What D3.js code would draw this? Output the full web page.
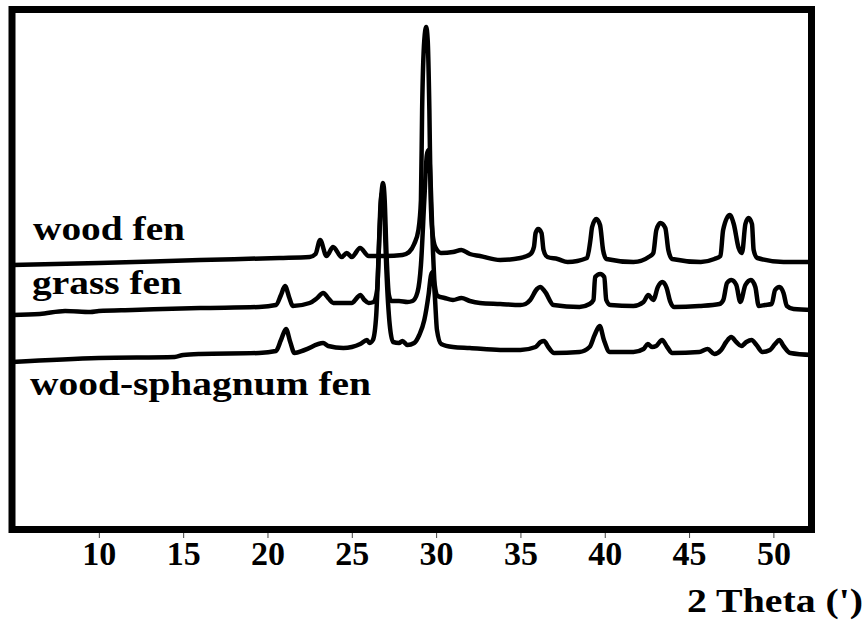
<!DOCTYPE html>
<html>
<head>
<meta charset="utf-8">
<script src="https://cdn.jsdelivr.net/npm/d3@7"></script>
<style>
  body { margin: 0; background: #fff; }
</style>
</head>
<body>
<div id="xrd"></div>
<script>
// XRD patterns, [2 theta, intensity] (traces are already offset, like in the figure)
let woodFen = [
  [4.85, 265], [10.0, 267], [16.0, 270], [20.7, 272], [22.5, 273], [22.85, 276],
  [23.12, 290], [23.5, 274], [23.89, 283], [24.4, 273], [24.7, 277], [25.0, 273],
  [25.49, 282], [26.0, 274], [27.0, 274], [28.0, 275], [28.4, 278], [28.7, 286],
  [28.95, 300], [29.1, 330], [29.17, 420], [29.3, 490], [29.41, 503], [29.5, 490],
  [29.6, 420], [29.68, 330], [29.78, 298], [29.95, 283], [30.3, 277], [31.0, 278],
  [31.5, 280], [32.0, 276], [32.6, 274], [33.8, 270], [35.0, 272], [35.6, 276],
  [35.8, 283], [35.9, 297], [36.05, 301], [36.25, 297], [36.37, 280], [36.6, 273],
  [37.2, 271], [37.8, 268], [38.95, 272], [39.15, 290], [39.25, 303], [39.5, 311],
  [39.72, 305], [39.9, 280], [40.1, 271], [41.7, 268], [42.7, 274], [42.88, 277],
  [43.06, 300], [43.3, 307], [43.59, 302], [43.77, 280], [44.0, 271], [45.7, 268],
  [46.5, 271], [46.86, 274], [47.02, 300], [47.41, 315], [47.65, 306], [47.94, 282],
  [48.14, 277], [48.34, 306], [48.53, 312], [48.73, 306], [48.83, 280], [49.05, 272],
  [50.6, 268], [52.3, 268]
]

let grassFen = [
  [4.85, 215], [6.5, 216], [8.0, 219], [9.5, 218], [10.0, 219], [12.0, 220],
  [16.0, 222], [19.5, 223], [20.5, 225], [20.8, 235], [21.04, 244], [21.3, 232],
  [21.5, 224], [22.5, 227], [22.95, 232], [23.3, 237], [23.65, 231], [23.9, 227],
  [25.0, 227], [25.3, 232], [25.5, 235], [25.75, 230], [26.0, 227], [26.3, 228],
  [26.5, 240], [26.65, 300], [26.78, 340], [26.85, 347], [26.95, 330], [27.05, 280],
  [27.2, 235], [27.35, 229], [27.8, 229], [28.3, 228], [28.6, 229], [28.9, 238],
  [29.1, 265], [29.3, 330], [29.45, 375], [29.55, 380], [29.68, 345], [29.8, 285],
  [29.92, 245], [30.1, 234], [30.5, 232], [31.0, 230], [31.5, 232], [32.0, 229],
  [32.6, 227], [33.8, 226], [35.0, 225], [35.3, 226], [35.58, 230], [35.98, 241],
  [36.17, 243], [36.47, 238], [36.96, 225], [38.5, 223], [39.1, 226], [39.33, 230],
  [39.43, 253], [39.73, 256], [39.97, 253], [40.09, 230], [40.33, 225], [41.7, 224],
  [42.3, 228], [42.58, 235], [42.88, 230], [43.15, 243], [43.41, 248], [43.67, 242],
  [43.87, 229], [44.1, 223], [45.6, 224], [46.8, 226], [47.03, 230], [47.25, 247],
  [47.51, 250], [47.8, 245], [48.04, 228], [48.34, 245], [48.67, 250], [48.93, 243],
  [49.13, 224], [49.5, 225], [49.9, 226], [50.1, 240], [50.36, 243], [50.6, 237],
  [50.8, 224], [51.2, 221], [52.3, 220]
]

let woodSphagnumFen = [
  [4.85, 168], [10.0, 172], [14.5, 173], [15.0, 175], [16.0, 176], [19.5, 177],
  [20.5, 179], [20.8, 190], [21.1, 201], [21.35, 188], [21.6, 177], [22.2, 180],
  [23.3, 187], [23.6, 184], [24.5, 182], [25.5, 186], [25.9, 190], [26.05, 187],
  [26.25, 190], [26.45, 215], [26.6, 280], [26.72, 330], [26.8, 337], [26.92, 320],
  [27.05, 260], [27.25, 205], [27.45, 188], [27.8, 187], [28.0, 189], [28.3, 185],
  [28.7, 187], [29.0, 195], [29.3, 210], [29.55, 235], [29.7, 255], [29.8, 258],
  [29.92, 235], [30.05, 200], [30.3, 186], [31.0, 183], [32.0, 182], [33.8, 180],
  [35.0, 180], [35.9, 183], [36.2, 188], [36.4, 189], [36.65, 183], [37.0, 177],
  [38.5, 178], [39.1, 183], [39.4, 195], [39.7, 204], [39.95, 190], [40.3, 178],
  [41.7, 178], [42.3, 181], [42.55, 186], [42.8, 183], [43.05, 184], [43.4, 190],
  [43.7, 183], [44.0, 177], [45.6, 178], [46.1, 181], [46.5, 176], [46.9, 180],
  [47.2, 188], [47.5, 193], [47.8, 188], [48.1, 184], [48.4, 188], [48.7, 190],
  [49.0, 185], [49.35, 178], [49.8, 180], [50.1, 186], [50.35, 190], [50.6, 184],
  [51.0, 177], [52.3, 175]
]

let seriesNames = ['wood fen', 'grass fen', 'wood-sphagnum fen']
let xTicks = [10, 15, 20, 25, 30, 35, 40, 45, 50]
let xTitle = "2 Theta (')"

let width = 868, height = 626
let serif = '"Liberation Serif", "Times New Roman", Times, serif'

let svg = d3.select('#xrd')
  .append('svg')
  .attr('width', width)
  .attr('height', height)
  .style('background', '#fff')

let x = d3.scaleLinear().domain([4.85, 52.26]).range([12, 811.5])
let y = d3.scaleLinear().domain([0, 520]).range([530, 10])

let line = d3.line()
  .x(d => x(d[0]))
  .y(d => y(d[1]))
  .curve(d3.curveMonotoneX)

// traces
svg.selectAll('.trace')
  .data([woodFen, grassFen, woodSphagnumFen])
  .enter().append('path')
    .attr('class', 'trace')
    .attr('d', line)
    .style('fill', 'none')
    .style('stroke', '#000')
    .style('stroke-width', 4.5)
    .style('stroke-linejoin', 'round')
    .style('stroke-linecap', 'round')

// frame
svg.append('rect')
  .attr('x', 12).attr('y', 9.5)
  .attr('width', 799.5).attr('height', 520)
  .style('fill', 'none')
  .style('stroke', '#000')
  .style('stroke-width', 7)

// bottom axis below the frame
let axis = svg.append('g')
  .attr('transform', 'translate(0,533)')
  .call(d3.axisBottom(x).tickValues(xTicks).tickSize(5).tickSizeOuter(0))

axis.select('.domain').remove()
axis.selectAll('.tick line').style('stroke', '#444').style('stroke-width', 1)
axis.selectAll('.tick text')
  .attr('y', 32)
  .attr('dy', null)
  .style('font-family', serif)
  .style('font-weight', 'bold')
  .style('font-size', '34px')
  .style('fill', '#000')

// trace labels
let labelPos = [
  {x: 33, y: 240, w: 152},
  {x: 32, y: 294, w: 150},
  {x: 30, y: 395, w: 341}
]

svg.selectAll('.label')
  .data(seriesNames)
  .enter().append('text')
    .attr('class', 'label')
    .attr('x', (d, i) => labelPos[i].x)
    .attr('y', (d, i) => labelPos[i].y)
    .attr('textLength', (d, i) => labelPos[i].w)
    .attr('lengthAdjust', 'spacingAndGlyphs')
    .text(d => d)
    .style('font-family', serif)
    .style('font-weight', 'bold')
    .style('font-size', '34.5px')

svg.append('text')
  .attr('x', 687)
  .attr('y', 612)
  .attr('textLength', 176)
  .attr('lengthAdjust', 'spacingAndGlyphs')
  .text(xTitle)
  .style('font-family', serif)
  .style('font-weight', 'bold')
  .style('font-size', '33px')
</script>
</body>
</html>
